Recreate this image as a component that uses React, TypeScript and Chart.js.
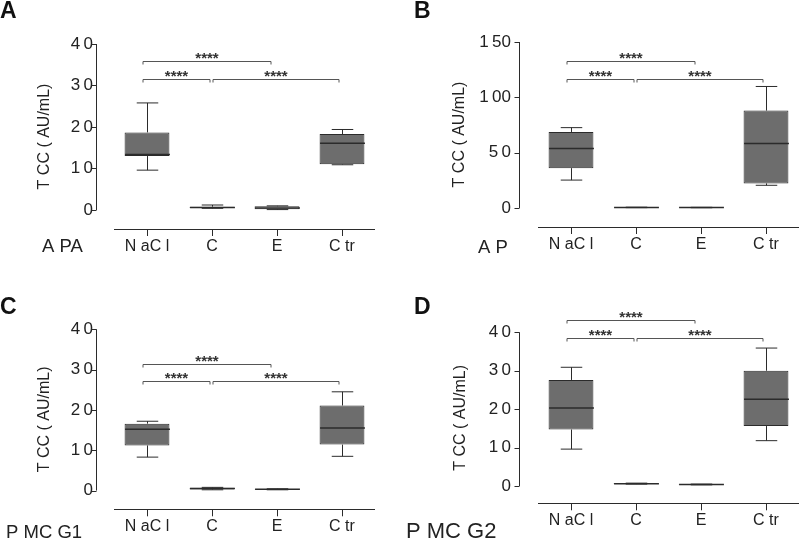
import React, { useEffect, useRef } from "react";
import { Chart, registerables } from "chart.js";

Chart.register(...registerables);

// ---------- data ----------
const categories = ["N aC l", "C", "E", "C tr"];
const yTitle = "T CC ( AU/mL)";
const stars = "****";

// Panel A – APA
const apaMin = [9.6, 0.4, 0.1, 10.9];
const apaQ1 = [13.0, 0.5, 0.2, 11.0];
const apaMed = [13.4, 0.6, 0.5, 16.1];
const apaQ3 = [18.7, 0.8, 0.9, 18.3];
const apaMax = [25.8, 1.2, 1.0, 19.4];
const apaTicks = [0, 10, 20, 30, 40];
const apaBracketLevels = [31.5, 36.0]; // lower row, upper row

// Panel B – AP
const apMin = [25.2, 0.3, 0.2, 20.5];
const apQ1 = [36.0, 0.4, 0.3, 22.2];
const apMed = [53.7, 0.5, 0.4, 58.2];
const apQ3 = [68.7, 0.6, 0.5, 88.0];
const apMax = [72.6, 0.7, 0.6, 109.8];
const apTicks = [0, 50, 100, 150];
const apBracketLevels = [116.5, 133.0];

// Panel C – PMCG1
const g1Min = [8.3, 0.2, 0.2, 8.5];
const g1Q1 = [11.2, 0.3, 0.3, 11.4];
const g1Med = [15.2, 0.5, 0.35, 15.5];
const g1Q3 = [16.6, 0.7, 0.4, 21.1];
const g1Max = [17.2, 0.8, 0.45, 24.5];
const g1Ticks = [0, 10, 20, 30, 40];
const g1BracketLevels = [27.1, 31.4];

// Panel D – PMCG2
const g2Min = [9.6, 0.5, 0.3, 11.8];
const g2Q1 = [14.7, 0.55, 0.35, 15.6];
const g2Med = [20.3, 0.6, 0.4, 22.6];
const g2Q3 = [27.6, 0.7, 0.45, 30.0];
const g2Max = [30.9, 0.75, 0.5, 35.9];
const g2Ticks = [0, 10, 20, 30, 40];
const g2BracketLevels = [38.6, 43.2];

// ---------- styling / layout ----------
const FONT = "'Liberation Sans', Arial, Helvetica, sans-serif";
const BOX_FILL = "#6d6d6d";
const LIGHT_FILL = "#d9d9d9";
const INK = "#2b2b2b";

type Geom = {
  left: number; top: number; w: number; h: number;
  chartLeft: number; chartRight: number; chartTop: number; chartBottom: number;
  yMin: number; yMax: number; yAxisX: number; titleX: number; tickPad: number;
  letterX: number; letterY: number; groupX: number; groupY: number; groupSize: number;
};

type Panel = {
  letter: string; group: string;
  min: number[]; q1: number[]; med: number[]; q3: number[]; max: number[];
  ticks: number[]; levels: number[]; fills: string[]; g: Geom;
};

const panels: Panel[] = [
  {
    letter: "A", group: "A PA", min: apaMin, q1: apaQ1, med: apaMed, q3: apaQ3, max: apaMax,
    ticks: apaTicks, levels: apaBracketLevels, fills: [BOX_FILL, BOX_FILL, LIGHT_FILL, BOX_FILL],
    g: { left: 0, top: 0, w: 400, h: 270, chartLeft: 114.5, chartRight: 374.5, chartTop: 44, chartBottom: 229,
      yMin: -4.58, yMax: 40, yAxisX: 96, titleX: 45, tickPad: 21.5, letterX: 0, letterY: 18,
      groupX: 42, groupY: 252, groupSize: 18.5 },
  },
  {
    letter: "B", group: "A P", min: apMin, q1: apQ1, med: apMed, q3: apQ3, max: apMax,
    ticks: apTicks, levels: apBracketLevels, fills: [BOX_FILL, BOX_FILL, BOX_FILL, BOX_FILL],
    g: { left: 400, top: 0, w: 400, h: 270, chartLeft: 138.5, chartRight: 398.5, chartTop: 42, chartBottom: 227,
      yMin: -17.2, yMax: 150, yAxisX: 119, titleX: 59.5, tickPad: 27.5, letterX: 14, letterY: 18,
      groupX: 78, groupY: 252.5, groupSize: 18.5 },
  },
  {
    letter: "C", group: "P MC G1", min: g1Min, q1: g1Q1, med: g1Med, q3: g1Q3, max: g1Max,
    ticks: g1Ticks, levels: g1BracketLevels, fills: [BOX_FILL, BOX_FILL, BOX_FILL, BOX_FILL],
    g: { left: 0, top: 270, w: 400, h: 271, chartLeft: 114.5, chartRight: 374.5, chartTop: 59.3, chartBottom: 245,
      yMin: -4.64, yMax: 40, yAxisX: 96, titleX: 45, tickPad: 21.5, letterX: 0, letterY: 44,
      groupX: 6, groupY: 268, groupSize: 18.5 },
  },
  {
    letter: "D", group: "P MC G2", min: g2Min, q1: g2Q1, med: g2Med, q3: g2Q3, max: g2Max,
    ticks: g2Ticks, levels: g2BracketLevels, fills: [BOX_FILL, BOX_FILL, BOX_FILL, BOX_FILL],
    g: { left: 400, top: 270, w: 400, h: 271, chartLeft: 138.5, chartRight: 398.5, chartTop: 62.3, chartBottom: 246.7,
      yMin: -4.5, yMax: 40, yAxisX: 119, titleX: 60.5, tickPad: 27.5, letterX: 14, letterY: 44,
      groupX: 6, groupY: 268, groupSize: 22 },
  },
];

function spacedTick(v: number): string {
  const s = String(v);
  return s.length > 1 ? s[0] + "\u2009" + s.slice(1) : s;
}

function makeConfig(p: Panel): any {
  const g = p.g;
  const titleLH = 16 * 1.2;
  const padLeft = g.titleX - titleLH / 2;
  const xScaleH = g.h - g.chartBottom;

  const boxPlugin = {
    id: "boxExtras",
    afterDatasetsDraw(chart: any) {
      const ctx = chart.ctx as CanvasRenderingContext2D;
      const xs = chart.scales.x;
      const ys = chart.scales.y;
      const meta = chart.getDatasetMeta(0);
      ctx.save();
      // whiskers & medians
      ctx.strokeStyle = INK;
      ctx.lineWidth = 1;
      categories.forEach((_, i) => {
        const bar = meta.data[i];
        const cx = Math.round(xs.getPixelForValue(i)) + 0.5;
        const bw = bar.width;
        const capHalf = bw * 0.24;
        const yMax = ys.getPixelForValue(p.max[i]);
        const yMin = ys.getPixelForValue(p.min[i]);
        const yQ1 = ys.getPixelForValue(p.q1[i]);
        const yQ3 = ys.getPixelForValue(p.q3[i]);
        ctx.beginPath();
        ctx.moveTo(cx, yQ3);
        ctx.lineTo(cx, yMax);
        ctx.moveTo(cx - capHalf, yMax);
        ctx.lineTo(cx + capHalf, yMax);
        ctx.moveTo(cx, yQ1);
        ctx.lineTo(cx, yMin);
        ctx.moveTo(cx - capHalf, yMin);
        ctx.lineTo(cx + capHalf, yMin);
        ctx.stroke();
        ctx.beginPath();
        ctx.lineWidth = 1.5;
        const ym = ys.getPixelForValue(p.med[i]);
        ctx.moveTo(cx - bw / 2, ym);
        ctx.lineTo(cx + bw / 2, ym);
        ctx.stroke();
        ctx.lineWidth = 1;
      });

      // y axis (offset GraphPad style)
      const ax = Math.round(g.yAxisX) + 0.5;
      ctx.beginPath();
      ctx.moveTo(ax, ys.getPixelForValue(p.ticks[p.ticks.length - 1]));
      ctx.lineTo(ax, ys.getPixelForValue(p.ticks[0]));
      p.ticks.forEach((t) => {
        const ty = Math.round(ys.getPixelForValue(t)) + 0.5;
        ctx.moveTo(ax - 5, ty);
        ctx.lineTo(ax, ty);
      });
      ctx.stroke();

      // significance brackets
      const lower = ys.getPixelForValue(p.levels[0]);
      const upper = ys.getPixelForValue(p.levels[1]);
      const brackets: [number, number, number][] = [
        [xs.getPixelForValue(0) - 4, xs.getPixelForValue(2) - 6, upper],
        [xs.getPixelForValue(0) - 4, xs.getPixelForValue(1) - 2, lower],
        [xs.getPixelForValue(1) + 1, xs.getPixelForValue(3) - 3, lower],
      ];
      ctx.strokeStyle = "#555";
      ctx.fillStyle = "#333";
      ctx.font = `bold 15px ${FONT}`;
      ctx.textAlign = "center";
      ctx.textBaseline = "alphabetic";
      brackets.forEach(([x0, x1, yy]) => {
        const y = Math.round(yy) + 0.5;
        ctx.beginPath();
        ctx.moveTo(x0, y + 3);
        ctx.lineTo(x0, y);
        ctx.lineTo(x1, y);
        ctx.lineTo(x1, y + 3);
        ctx.stroke();
        ctx.fillText(stars, (x0 + x1) / 2, y + 1);
      });

      // panel letter and group label
      ctx.fillStyle = "#111";
      ctx.textAlign = "left";
      ctx.font = `bold 23px ${FONT}`;
      ctx.fillText(p.letter, g.letterX, g.letterY);
      ctx.fillStyle = "#222";
      ctx.font = `${g.groupSize}px ${FONT}`;
      ctx.fillText(p.group, g.groupX, g.groupY);
      ctx.restore();
    },
  };

  return {
    type: "bar",
    data: {
      labels: categories,
      datasets: [
        {
          data: p.q1.map((v, i) => [v, p.q3[i]]),
          backgroundColor: p.fills,
          borderColor: INK,
          borderWidth: 1,
          borderSkipped: false,
          barPercentage: 0.69,
          categoryPercentage: 1,
        },
      ],
    },
    options: {
      responsive: false,
      animation: false,
      devicePixelRatio: 1,
      layout: {
        padding: {
          left: padLeft,
          top: g.chartTop,
          right: g.w - g.chartRight,
          bottom: 0,
        },
      },
      plugins: { legend: { display: false }, tooltip: { enabled: false }, title: { display: false } },
      scales: {
        x: {
          type: "category",
          offset: true,
          grid: { display: true, drawOnChartArea: false, drawTicks: true, tickLength: 7, offset: false, color: INK, lineWidth: 1 },
          border: { display: true, color: INK, width: 1 },
          ticks: { font: { family: FONT, size: 16 }, color: "#222", padding: 1, maxRotation: 0, autoSkip: false },
          afterFit: (s: any) => { s.height = xScaleH; },
        },
        y: {
          type: "linear",
          min: g.yMin,
          max: g.yMax,
          afterBuildTicks: (s: any) => { s.ticks = p.ticks.map((v) => ({ value: v })); },
          grid: { display: false, drawTicks: false },
          border: { display: false },
          ticks: {
            padding: g.tickPad,
            font: { family: FONT, size: 17 },
            color: "#222",
            callback: (v: any) => spacedTick(Number(v)),
          },
          title: { display: true, text: yTitle, font: { family: FONT, size: 16 }, color: "#222", padding: 0 },
          afterFit: (s: any) => { s.width = g.chartLeft - padLeft; },
        },
      },
    },
    plugins: [boxPlugin],
  };
}

function PanelChart({ p }: { p: Panel }) {
  const ref = useRef<HTMLCanvasElement | null>(null);
  useEffect(() => {
    if (!ref.current) return;
    const chart = new Chart(ref.current, makeConfig(p));
    return () => chart.destroy();
  }, [p]);
  return (
    <canvas
      ref={ref}
      width={p.g.w}
      height={p.g.h}
      style={{ position: "absolute", left: p.g.left, top: p.g.top, width: p.g.w, height: p.g.h }}
    />
  );
}

export default function App() {
  return (
    <div style={{ position: "absolute", left: 0, top: 0, width: 800, height: 541, background: "#fff", overflow: "hidden" }}>
      {panels.map((p) => (
        <PanelChart key={p.letter} p={p} />
      ))}
    </div>
  );
}
